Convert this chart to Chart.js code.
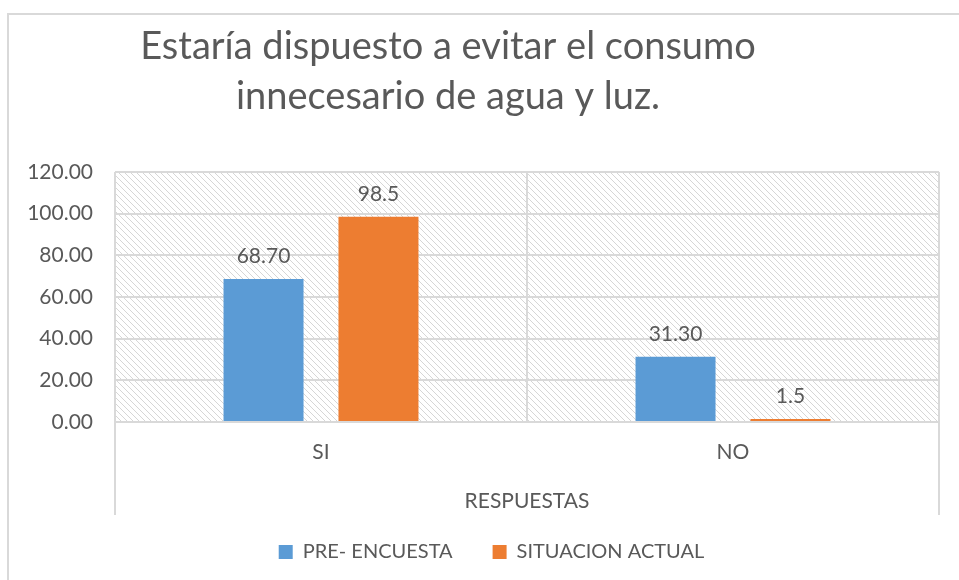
<!DOCTYPE html>
<html>
<head>
<meta charset="utf-8">
<script src="https://cdn.jsdelivr.net/npm/chart.js@4.4.0/dist/chart.umd.min.js"></script>
<style>
  html, body { margin: 0; padding: 0; background: #fff; }
  #wrap { width: 959px; height: 580px; }
</style>
</head>
<body>
<div id="wrap"><canvas id="myChart" width="959" height="580"></canvas></div>
<script>
// chart data
const categories = ['SI', 'NO'];
const seriesNames = ['PRE- ENCUESTA', 'SITUACION ACTUAL'];
const preEncuesta = [68.70, 31.30];
const situacionActual = [98.5, 1.5];
const labelDecimals = [2, 1];
const titleLines = ['Estaría dispuesto a evitar el consumo', 'innecesario de agua y luz.'];
const axisTitle = 'RESPUESTAS';

const FONT = 'Lato, "Open Sans", sans-serif';
const GREY = '#595959';
const LINE = '#d9d9d9';

// diagonal hatch for the plot area
function makeHatch() {
  const c = document.createElement('canvas');
  c.width = 6; c.height = 6;
  const g = c.getContext('2d');
  g.fillStyle = '#ffffff';
  g.fillRect(0, 0, 6, 6);
  g.fillStyle = '#d6d6d6';
  for (let i = 0; i < 6; i++) g.fillRect(i, i, 1, 1);
  return g.createPattern(c, 'repeat');
}

const backgroundPlugin = {
  id: 'background',
  afterLayout(chart) {
    // legend sits a bit right of the canvas centre in the original
    if (chart.legend) {
      chart.legend.left += 22;
      chart.legend.right += 22;
    }
  },
  beforeDraw(chart) {
    const { ctx, chartArea: a } = chart;
    ctx.save();
    // outer frame
    ctx.strokeStyle = LINE;
    ctx.lineWidth = 2;
    ctx.strokeRect(8, 14, chart.width + 10, chart.height + 10);
    // hatched plot area
    ctx.fillStyle = makeHatch();
    ctx.fillRect(a.left, a.top, a.right - a.left, a.bottom - a.top);
    ctx.restore();
  },
  afterDraw(chart) {
    const { ctx, chartArea: a } = chart;
    ctx.save();
    // category axis outer ticks reaching below the labels
    ctx.strokeStyle = LINE;
    ctx.lineWidth = 2;
    ctx.beginPath();
    ctx.moveTo(a.left, a.bottom);
    ctx.lineTo(a.left, a.bottom + 93);
    ctx.moveTo(a.right, a.bottom);
    ctx.lineTo(a.right, a.bottom + 93);
    ctx.stroke();
    // title
    ctx.fillStyle = GREY;
    ctx.font = '38px ' + FONT;
    ctx.textAlign = 'center';
    ctx.textBaseline = 'middle';
    ctx.fillText(titleLines[0], 448, 47);
    ctx.fillText(titleLines[1], 448, 97);
    ctx.restore();
  }
};

const valueLabels = {
  id: 'valueLabels',
  afterDatasetsDraw(chart) {
    const { ctx } = chart;
    ctx.save();
    ctx.fillStyle = GREY;
    ctx.font = '21px ' + FONT;
    ctx.textAlign = 'center';
    ctx.textBaseline = 'middle';
    chart.data.datasets.forEach((ds, i) => {
      chart.getDatasetMeta(i).data.forEach((bar, j) => {
        ctx.fillText(ds.data[j].toFixed(labelDecimals[i]), bar.x, bar.y - 23);
      });
    });
    ctx.restore();
  }
};

new Chart(document.getElementById('myChart'), {
  type: 'bar',
  data: {
    labels: categories,
    datasets: [
      { label: seriesNames[0], data: preEncuesta, backgroundColor: '#5b9bd5' },
      { label: seriesNames[1], data: situacionActual, backgroundColor: '#ed7d31' }
    ]
  },
  options: {
    responsive: false,
    animation: false,
    devicePixelRatio: 1,
    categoryPercentage: 0.558,
    barPercentage: 0.696,
    layout: { padding: { top: 172, right: 20, left: 0, bottom: 8 } },
    scales: {
      y: {
        min: 0, max: 120,
        ticks: {
          stepSize: 20,
          color: GREY,
          font: { family: FONT, size: 21 },
          padding: 22,
          callback: v => v.toFixed(2)
        },
        grid: { color: LINE, lineWidth: 2, drawTicks: false },
        border: { display: false },
        afterFit(scale) { scale.width = 115; }
      },
      x: {
        ticks: {
          color: GREY,
          font: { family: FONT, size: 21 },
          padding: 18
        },
        grid: { color: LINE, lineWidth: 2, drawTicks: false },
        border: { color: LINE, width: 2 },
        title: {
          display: true,
          text: axisTitle,
          color: GREY,
          font: { family: FONT, size: 21 },
          padding: { top: 22, bottom: -12 }
        },
        afterFit(scale) { scale.height = 80; }
      }
    },
    plugins: {
      title: { display: false },
      tooltip: { enabled: false },
      legend: {
        position: 'bottom',
        labels: {
          color: GREY,
          font: { family: FONT, size: 20 },
          boxWidth: 14,
          boxHeight: 14,
          padding: 40
        }
      }
    }
  },
  plugins: [backgroundPlugin, valueLabels]
});
</script>
</body>
</html>
